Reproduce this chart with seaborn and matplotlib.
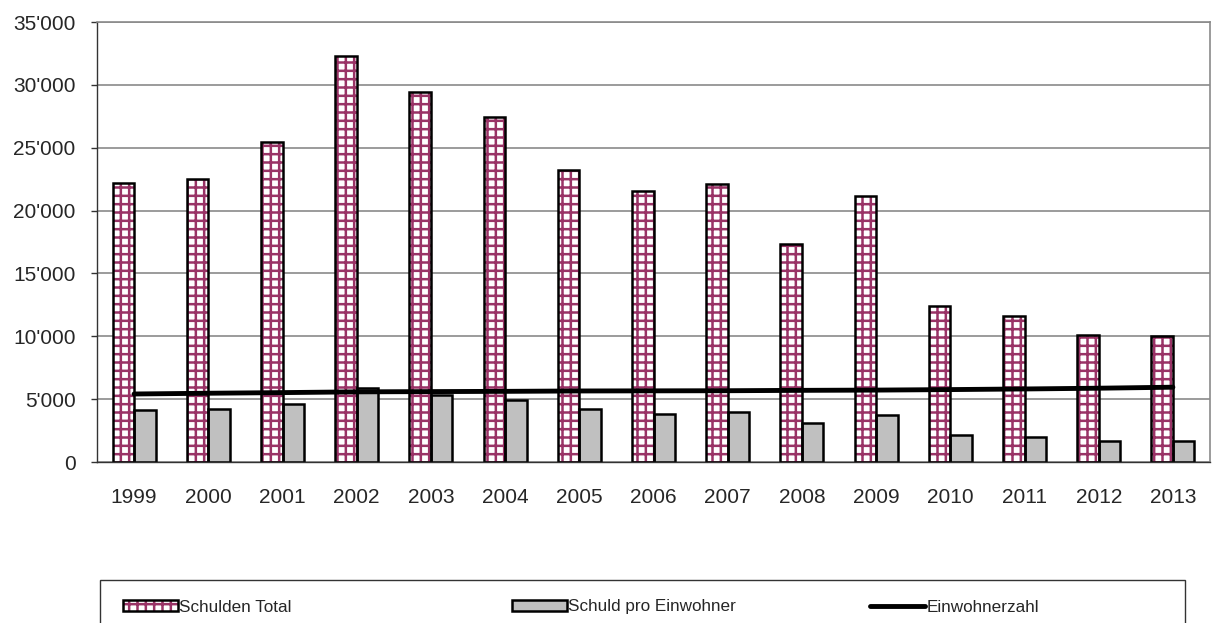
import numpy as np
import pandas as pd
import seaborn as sns
import matplotlib.pyplot as plt
from matplotlib.patches import Rectangle, Patch
from matplotlib.lines import Line2D
from matplotlib.ticker import FuncFormatter, MultipleLocator
from matplotlib.legend_handler import HandlerTuple

# Data
years = ['1999', '2000', '2001', '2002', '2003', '2004', '2005', '2006',
         '2007', '2008', '2009', '2010', '2011', '2012', '2013']
schulden_total = [22200, 22500, 25450, 32300, 29400, 27450, 23200, 21550,
                  22150, 17350, 21150, 12400, 11650, 10100, 10000]
schuld_pro_einw = [4150, 4200, 4650, 5850, 5300, 4950, 4200, 3850,
                   3950, 3100, 3750, 2150, 2000, 1700, 1650]
einwohnerzahl = [5410, 5470, 5520, 5580, 5600, 5620, 5650, 5660,
                 5670, 5700, 5720, 5760, 5810, 5870, 5950]
series_names = ['Schulden Total', 'Schuld pro Einwohner', 'Einwohnerzahl']

plum = '#993366'

sns.set_style('white')
plt.rcParams['font.family'] = ['Liberation Sans', 'DejaVu Sans']
plt.rcParams['hatch.linewidth'] = 1.8

df = pd.DataFrame({
    'Jahr': years * 2,
    'Wert': schulden_total + schuld_pro_einw,
    'Serie': [series_names[0]] * len(years) + [series_names[1]] * len(years),
})

fig = plt.figure(figsize=(12.16, 6.23), dpi=100)
ax = fig.add_axes([97 / 1216, 1 - 462 / 623, 1113 / 1216, 440 / 623])

sns.barplot(data=df, x='Jahr', y='Wert', hue='Serie', order=years,
            hue_order=series_names[:2],
            palette={series_names[0]: 'white', series_names[1]: '#C0C0C0'},
            saturation=1, width=0.58, gap=0, edgecolor='black', linewidth=1.8,
            legend=False, ax=ax)

# hatched bars: hatch drawn in plum, outline redrawn in black on top
for p in ax.containers[0]:
    p.set_hatch('++')
    p.set_edgecolor(plum)
    p.set_linewidth(0)
    ax.add_patch(Rectangle(p.get_xy(), p.get_width(), p.get_height(),
                           fill=False, edgecolor='black', linewidth=1.8,
                           zorder=p.get_zorder() + 0.1))

sns.lineplot(x=np.arange(len(years)), y=einwohnerzahl, color='black',
             linewidth=3.5, ax=ax, zorder=5)

ax.set_xlim(-0.5, len(years) - 0.5)
ax.set_ylim(0, 35000)
ax.yaxis.set_major_locator(MultipleLocator(5000))
ax.yaxis.set_major_formatter(FuncFormatter(lambda v, _: f"{v:,.0f}".replace(',', "'")))
ax.grid(axis='y', color='#8a8a8a', linewidth=1.2)
ax.set_axisbelow(True)
ax.set_xlabel('')
ax.set_ylabel('')

ax.set_xticks(np.arange(-0.5, len(years)), minor=True)
ax.tick_params(axis='x', which='major', length=0, pad=19, labelsize=15)
ax.tick_params(axis='x', which='minor', direction='inout', length=9,
               width=1, color='#333333')
ax.tick_params(axis='y', direction='out', length=4.5, width=1,
               color='#333333', pad=11, labelsize=15, left=True)

for s in ['left', 'bottom']:
    ax.spines[s].set_color('#333333')
    ax.spines[s].set_linewidth(1)
for s in ['top', 'right']:
    ax.spines[s].set_color('#8a8a8a')
    ax.spines[s].set_linewidth(1.2)

# legend: framed box at the bottom, three separate entries
fig.patches.append(Rectangle((100 / 1216, -0.05), 1085 / 1216, 0.05 + 1 - 580 / 623,
                             transform=fig.transFigure, fill=False,
                             edgecolor='#333333', linewidth=1))

h_total = (Patch(facecolor='white', edgecolor=plum, hatch='++', linewidth=0),
           Patch(facecolor='none', edgecolor='black', linewidth=1.8))
h_pro = Patch(facecolor='#C0C0C0', edgecolor='black', linewidth=1.8)
h_line = Line2D([], [], color='black', linewidth=3.5)

for h, name, x0 in zip([h_total, h_pro, h_line], series_names, [123, 512, 870]):
    fig.legend([h], [name], loc='center left',
               bbox_to_anchor=(x0 / 1216, 1 - 607 / 623),
               frameon=False, fontsize=12.3, handlelength=3.2, handleheight=0.6,
               handletextpad=0.1, borderpad=0, borderaxespad=0,
               handler_map={tuple: HandlerTuple(ndivide=1)})

fig.savefig('out.png', dpi=100)
